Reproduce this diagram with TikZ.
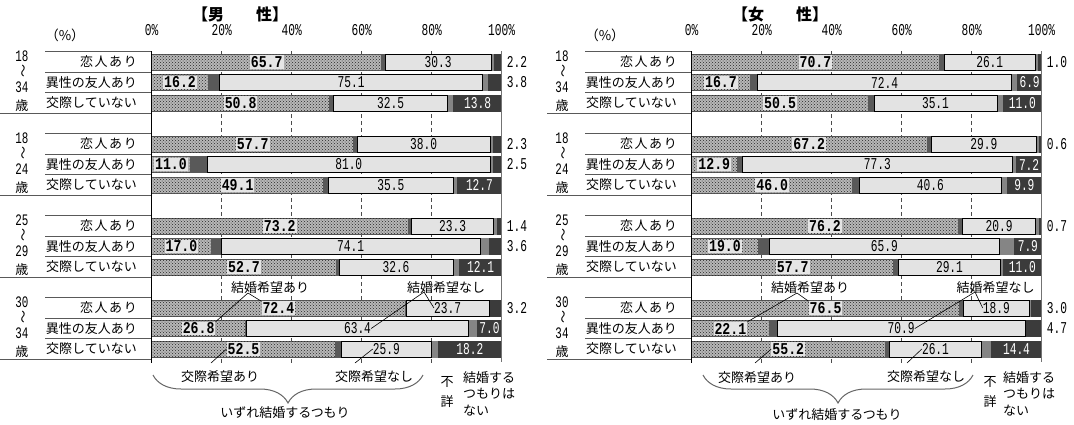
\documentclass[tikz,border=0pt]{standalone}
\usepackage{fontspec}
\usetikzlibrary{patterns,decorations.pathreplacing,calc}
\setmainfont{Noto Sans CJK JP}
\newfontfamily\jp{Noto Sans CJK JP}
\newfontfamily\numf[FakeStretch=0.68]{Liberation Mono}
\newfontfamily\numb[FakeStretch=0.8]{Liberation Mono}

\tikzset{
 dotseg/.style={fill=black!28, postaction={pattern=crosshatch dots, pattern color=black!85}, draw=black!65, line width=0.6pt},
 gAseg/.style={fill=black!65, draw=black!65, line width=0.6pt},
 gBseg/.style={fill=black!48, draw=black!48, line width=0.6pt},
 darkseg/.style={fill=black!77, draw=black!77, line width=0.6pt},
 lightseg/.style={fill=black!11, draw=black, line width=0.8pt},
 boldlbl/.style={fill=black!10, inner sep=1pt, font=\numb\bfseries\fontsize{16.5}{17}\selectfont},
 lbl/.style={inner sep=0pt, font=\numf\fontsize{16.5}{17}\selectfont},
 whitelbl/.style={lbl, text=white},
 agenum/.style={inner sep=0pt, font=\numf\fontsize{16}{17}\selectfont},
 axlbl/.style={inner sep=0pt, font=\numf\fontsize{16.5}{17}\selectfont},
 gridln/.style={black!70, line width=0.7pt, dash pattern=on 4pt off 3pt},
 jtext/.style={inner sep=0pt, font=\jp\fontsize{13}{16.5}\selectfont},
 titletext/.style={inner sep=0pt, font=\jp\bfseries\fontsize{16}{18}\selectfont},
 sepline/.style={black!65, line width=1pt},
 leader/.style={black, line width=0.6pt},
 bracest/.style={decorate, decoration={brace, mirror, amplitude=28pt}, black!60, line width=1pt},
}

% bar: #1 name, #2 x0, #3 row, #4 a, #5 g1, #6 b, #7 g2, #8 c, #9 outside flag
\newcommand\hb[9]{%
 \pgfmathsetmacro\yc{62+20.5*#3}%
 \pgfmathsetmacro\xa{#2+3.5*#4}%
 \pgfmathsetmacro\xb{\xa+3.5*#5}%
 \pgfmathsetmacro\xc{\xb+3.5*#6}%
 \pgfmathsetmacro\xd{\xc+3.5*#7}%
 \pgfmathsetmacro\xe{#2+350}%
 \path[dotseg] (#2,\yc-8) rectangle (\xa,\yc+8);
 \path[gAseg] (\xa,\yc-8) rectangle (\xb,\yc+8);
 \path[gBseg] (\xc,\yc-8) rectangle (\xd,\yc+8);
 \path[darkseg] (\xd,\yc-8) rectangle (\xe,\yc+8);
 \path[lightseg] (\xb,\yc-8) rectangle (\xc,\yc+8);
 \node[boldlbl] (#1a) at ({(#2+\xa)/2},\yc) {#4};
 \node[lbl] (#1b) at ({(\xb+\xc)/2},\yc) {#6};
 \ifnum#9=1
  \node[lbl, anchor=west] (#1c) at (\xe+5,\yc) {#8};
 \else
  \node[whitelbl] (#1c) at ({(\xd+\xe)/2},\yc) {#8};
 \fi
}

% frame: #1 prefix, #2 x0, #3 group line start, #4 dx, #5 sex
\newcommand\panelframe[5]{%
 \foreach \k in {1,...,4} {\draw[gridln] (#2+70*\k,51) -- (#2+70*\k,363);}
 \node[titletext] (#1title) at (240+#4,14) {【#5　　性】};
 \node[jtext, font=\jp\fontsize{13.5}{15}\selectfont] (#1pct) at (65+#4,35) {（\%）};
 \foreach \k/\t in {0/0,1/20,2/40,3/60,4/80,5/100} {\node[axlbl] (#1ax\k) at (#2+70*\k,30) {\t\%};}
 \foreach \i in {0,1,2,4,5,6,8,9,10,12,13,14} {\draw[sepline] (45+#4,{62+20.5*\i-10.25}) -- (#2,{62+20.5*\i-10.25});}
 \foreach \i in {2,6,10,14} {\draw[sepline] (#3,{62+20.5*\i+10.25}) -- (#2,{62+20.5*\i+10.25});}
 \foreach \g/\p/\q in {0/18/34,4/18/24,8/25/29,12/30/34} {
  \node[jtext, anchor=east] (#1la\g) at (137+#4,{62+20.5*\g}) {\addfontfeature{LetterSpace=12}恋人あり};
  \node[jtext, anchor=east] (#1lb\g) at (137+#4,{62+20.5*(\g+1)}) {異性の友人あり};
  \node[jtext, anchor=east] (#1lc\g) at (137+#4,{62+20.5*(\g+2)}) {交際していない};
  \node[agenum] (#1n\g) at (22+#4,{62+20.5*\g-6}) {\p};
  \node[jtext, rotate=-90] (#1w\g) at (22+#4,{62+20.5*\g+9}) {〜};
  \node[agenum] (#1m\g) at (22+#4,{62+20.5*(\g+1)+5}) {\q};
  \node[jtext] (#1s\g) at (22+#4,{62+20.5*(\g+2)+3}) {歳};
 }
}

\newcommand\panelaxes[2]{%
 \draw[black, line width=1pt] (#2,51) -- (#2,363);
 \draw[black!55, line width=1.2pt] (#2+350,51) -- (#2+350,362);
 \foreach \k in {1,...,4} {\draw[black!70, line width=0.7pt] (#2+70*\k,359) -- (#2+70*\k,363);}
}

\begin{document}
\begin{tikzpicture}[x=1pt,y=-1pt]
\useasboundingbox[fill=white] (0,0) rectangle (1074,424);

\panelframe{m}{151.7}{0}{0}{男}
\panelframe{f}{691.7}{547}{540}{女}

% men bars
\hb{m0}{151.7}{0}{65.7}{1.0}{30.3}{0.8}{2.2}{1}
\hb{m1}{151.7}{1}{16.2}{3.2}{75.1}{1.7}{3.8}{1}
\hb{m2}{151.7}{2}{50.8}{1.2}{32.5}{1.7}{13.8}{0}
\hb{m4}{151.7}{4}{57.7}{1.0}{38.0}{1.0}{2.3}{1}
\hb{m5}{151.7}{5}{11.0}{4.8}{81.0}{0.7}{2.5}{1}
\hb{m6}{151.7}{6}{49.1}{1.5}{35.5}{1.2}{12.7}{0}
\hb{m8}{151.7}{8}{73.2}{1.1}{23.3}{1.0}{1.4}{1}
\hb{m9}{151.7}{9}{17.0}{2.8}{74.1}{2.5}{3.6}{1}
\hb{m10}{151.7}{10}{52.7}{0.8}{32.6}{1.8}{12.1}{0}
\hb{m12}{151.7}{12}{72.4}{0.3}{23.7}{0.4}{3.2}{1}
\hb{m13}{151.7}{13}{26.8}{0.3}{63.4}{2.5}{7.0}{0}
\hb{m14}{151.7}{14}{52.5}{1.6}{25.9}{1.8}{18.2}{0}

% women bars
\hb{f0}{691.7}{0}{70.7}{1.4}{26.1}{0.8}{1.0}{1}
\hb{f1}{691.7}{1}{16.7}{2.2}{72.4}{1.8}{6.9}{0}
\hb{f2}{691.7}{2}{50.5}{1.6}{35.1}{1.8}{11.0}{0}
\hb{f4}{691.7}{4}{67.2}{1.3}{29.9}{1.0}{0.6}{1}
\hb{f5}{691.7}{5}{12.9}{1.5}{77.3}{1.1}{7.2}{0}
\hb{f6}{691.7}{6}{46.0}{1.9}{40.6}{1.6}{9.9}{0}
\hb{f8}{691.7}{8}{76.2}{1.2}{20.9}{1.0}{0.7}{1}
\hb{f9}{691.7}{9}{19.0}{3.1}{65.9}{4.1}{7.9}{0}
\hb{f10}{691.7}{10}{57.7}{1.4}{29.1}{0.8}{11.0}{0}
\hb{f12}{691.7}{12}{76.5}{1.1}{18.9}{0.5}{3.0}{1}
\hb{f13}{691.7}{13}{22.1}{2.3}{70.9}{0.0}{4.7}{1}
\hb{f14}{691.7}{14}{55.2}{1.4}{26.1}{2.9}{14.4}{0}

\panelaxes{m}{151.7}
\panelaxes{f}{691.7}

% men annotations
\node[jtext] (mkA) at (270,287.5) {結婚希望あり};
\node[jtext] (mkN) at (446,287.5) {結婚希望なし};
\coordinate (mkAp) at (248,293);
\coordinate (mkNp) at (424,292);
\draw[leader] (mkAp) -- (m12a.north west);
\draw[leader] (mkAp) -- (m13a.north east);
\draw[leader] (mkNp) -- (m12b.west);
\draw[leader] (mkNp) -- (m13b.east);
\node[jtext] (mcA) at (220,377) {交際希望あり};
\node[jtext] (mcN) at (374,377) {交際希望なし};
\coordinate (mcAp) at (211,363);
\coordinate (mcNp) at (355,363);
\draw[leader] (mcAp) -- (m14a.west);
\draw[leader] (mcNp) -- (m14b.west);
\coordinate (mbl) at (153,375);
\coordinate (mbr) at (423,375);
\draw[bracest] (mbl) -- (mbr);
\node[jtext] (mall) at (285,413) {いずれ結婚するつもり};
\node[jtext, align=center] (mfs) at (447,392) {不\\[3.5pt]詳};
\node[jtext, align=left, anchor=west] (mnone) at (463,393.5) {結婚する\\つもりは\\ない};

% women annotations
\node[jtext] (fkA) at (810,287.5) {結婚希望あり};
\node[jtext] (fkN) at (995.5,287.5) {結婚希望なし};
\coordinate (fkAp) at (797,293);
\coordinate (fkNp) at (975,292);
\draw[leader] (fkAp) -- (f12a.north west);
\draw[leader] (fkAp) -- (f13a.north east);
\draw[leader] (fkNp) -- (f12b.west);
\draw[leader] (fkNp) -- (f13b.east);
\node[jtext] (fcA) at (757,378) {交際希望あり};
\node[jtext] (fcN) at (926,377) {交際希望なし};
\coordinate (fcAp) at (755,363);
\coordinate (fcNp) at (907,363);
\draw[leader] (fcAp) -- (f14a.west);
\draw[leader] (fcNp) -- (f14b.west);
\coordinate (fbl) at (703,375);
\coordinate (fbr) at (973,375);
\draw[bracest] (fbl) -- (fbr);
\node[jtext] (fall) at (837,415) {いずれ結婚するつもり};
\node[jtext, align=center] (ffs) at (990,392) {不\\[3.5pt]詳};
\node[jtext, align=left, anchor=west] (fnone) at (1003,393.5) {結婚する\\つもりは\\ない};
\end{tikzpicture}
\end{document}
